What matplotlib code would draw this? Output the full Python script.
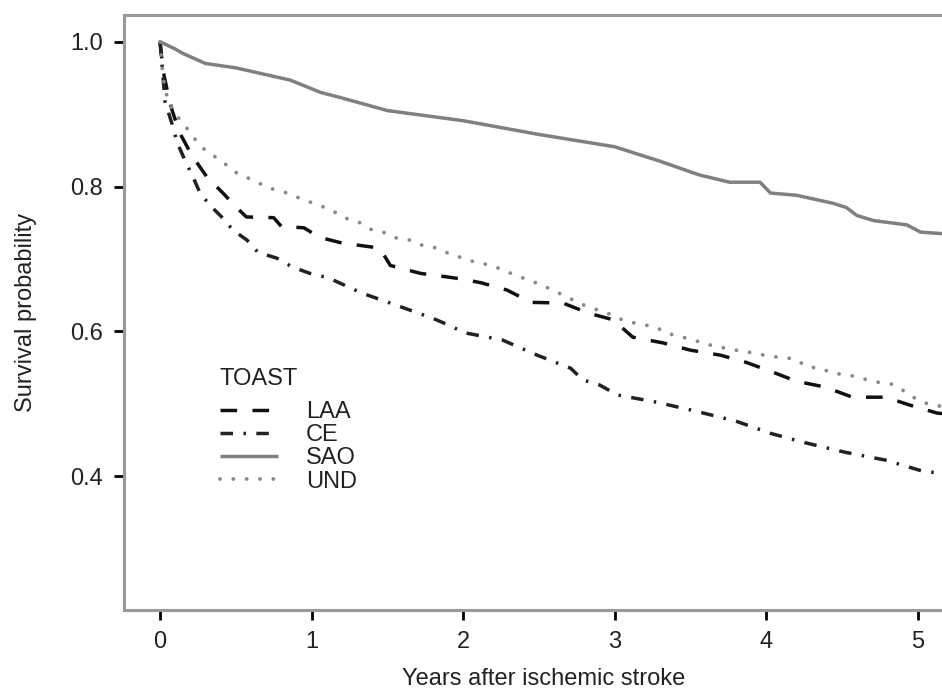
import matplotlib
matplotlib.use("Agg")
import matplotlib.pyplot as plt

plt.rcParams['font.family'] = ['Liberation Sans', 'DejaVu Sans']
plt.rcParams['lines.scale_dashes'] = False

# ---- data ----
laa_t = [0, 0.02, 0.05, 0.08, 0.13, 0.21, 0.31, 0.42, 0.50, 0.57, 0.75, 0.80, 0.95, 1.05,
         1.20, 1.45, 1.52, 1.72, 1.90, 2.0, 2.12, 2.29, 2.45, 2.66, 2.83, 2.99, 3.12, 3.32,
         3.50, 3.70, 3.87, 4.04, 4.20, 4.39, 4.57, 4.79, 4.95, 5.13, 5.25]
laa_s = [1.0, 0.96, 0.93, 0.905, 0.874, 0.843, 0.813, 0.790, 0.772, 0.758, 0.757, 0.745,
         0.743, 0.730, 0.722, 0.715, 0.691, 0.680, 0.675, 0.672, 0.667, 0.657, 0.640, 0.639,
         0.625, 0.616, 0.592, 0.584, 0.574, 0.567, 0.557, 0.544, 0.531, 0.523, 0.509, 0.509,
         0.498, 0.487, 0.485]

ce_t = [0, 0.02, 0.033, 0.086, 0.112, 0.165, 0.218, 0.264, 0.33, 0.416, 0.48, 0.574, 0.647,
        0.772, 0.871, 0.99, 1.11, 1.33, 1.56, 1.80, 1.90, 2.01, 2.26, 2.49, 2.71, 2.79, 2.90,
        3.02, 3.28, 3.53, 3.80, 4.03, 4.26, 4.52, 4.79, 5.03, 5.15, 5.25]
ce_s = [1.0, 0.95, 0.917, 0.882, 0.861, 0.836, 0.813, 0.791, 0.774, 0.756, 0.740, 0.726,
        0.709, 0.701, 0.689, 0.680, 0.674, 0.653, 0.636, 0.618, 0.609, 0.598, 0.588, 0.567,
        0.549, 0.533, 0.526, 0.512, 0.502, 0.490, 0.476, 0.459, 0.446, 0.433, 0.422, 0.407,
        0.404, 0.400]

sao_t = [0, 0.02, 0.10, 0.15, 0.30, 0.50, 0.86, 1.06, 1.19, 1.50, 2.00, 2.50, 3.00, 3.30,
         3.56, 3.76, 3.96, 4.03, 4.20, 4.44, 4.53, 4.60, 4.71, 4.93, 5.02, 5.16, 5.25]
sao_s = [1.0, 0.998, 0.990, 0.984, 0.970, 0.964, 0.947, 0.930, 0.923, 0.905, 0.891, 0.872,
         0.855, 0.835, 0.816, 0.806, 0.806, 0.791, 0.788, 0.777, 0.771, 0.760, 0.753, 0.747,
         0.737, 0.735, 0.733]

und_t = [0, 0.02, 0.05, 0.10, 0.15, 0.20, 0.25, 0.31, 0.38, 0.45, 0.51, 0.59, 0.67, 0.75,
         0.84, 0.92, 1.01, 1.09, 1.17, 1.24, 1.32, 1.40, 1.49, 1.56, 1.65, 1.74, 1.83, 1.90,
         2.00, 2.09, 2.19, 2.26, 2.34, 2.43, 2.52, 2.59, 2.66, 2.74, 2.83, 2.90, 2.99, 3.07,
         3.17, 3.27, 3.35, 3.43, 3.52, 3.61, 3.70, 3.80, 3.89, 3.99, 4.09, 4.19, 4.27, 4.36,
         4.44, 4.54, 4.63, 4.73, 4.83, 4.90, 4.97, 5.05, 5.14, 5.25]
und_s = [1.0, 0.95, 0.92, 0.90, 0.888, 0.874, 0.860, 0.848, 0.839, 0.828, 0.818, 0.811,
         0.803, 0.796, 0.791, 0.784, 0.777, 0.771, 0.763, 0.755, 0.750, 0.740, 0.736, 0.729,
         0.726, 0.718, 0.715, 0.708, 0.701, 0.695, 0.691, 0.685, 0.678, 0.671, 0.664, 0.657,
         0.650, 0.642, 0.633, 0.629, 0.622, 0.614, 0.610, 0.606, 0.597, 0.593, 0.588, 0.582,
         0.578, 0.574, 0.571, 0.567, 0.564, 0.562, 0.551, 0.549, 0.542, 0.540, 0.535, 0.530,
         0.527, 0.519, 0.509, 0.501, 0.497, 0.493]

x_ticks = [0, 1, 2, 3, 4, 5]
y_ticks = [0.4, 0.6, 0.8, 1.0]
y_ticklabels = ["0.4", "0.6", "0.8", "1.0"]

# ---- figure ----
W, H = 942, 690
AX_L, AX_R, AX_T, AX_B = 124, 963, 15, 610
fig = plt.figure(figsize=(W / 100, H / 100), dpi=100)
ax = fig.add_axes([AX_L / W, 1 - AX_B / H, (AX_R - AX_L) / W, (AX_B - AX_T) / H])

lw = 2.5
ax.plot(laa_t, laa_s, color='#111111', lw=lw, dashes=(12, 11), label='LAA')
ax.plot(ce_t, ce_s, color='#222222', lw=lw, dashes=(9, 7.5, 1.8, 7.5), label='CE')
ax.plot(sao_t, sao_s, color='#808080', lw=2.5, solid_capstyle='butt', label='SAO')
ax.plot(und_t, und_s, color='#8a8a8a', lw=2.8, dashes=(0.01, 9.6),
        dash_capstyle='round', label='UND')

ax.set_xlim(-0.238, 5.3)
ax.set_ylim(0.215, 1.037)
ax.set_xticks(x_ticks)
ax.set_yticks(y_ticks)
ax.set_yticklabels(y_ticklabels)

for sp in ['left', 'bottom', 'top', 'right']:
    ax.spines[sp].set_color('#999999')
    ax.spines[sp].set_linewidth(2.2)

ax.tick_params(axis='both', direction='out', length=7, width=2.0, color='black',
               labelsize=17, pad=8, labelcolor='#222222')

ax.set_xlabel('Years after ischemic stroke', fontsize=17, labelpad=11, color='#222222')
ax.set_ylabel('Survival probability', fontsize=17, labelpad=24, color='#222222')

leg_left = (220 - AX_L) / (AX_R - AX_L)
leg_top = 1 - (368 - AX_T) / (AX_B - AX_T)
leg = ax.legend(title='TOAST', loc='upper left', bbox_to_anchor=(leg_left, leg_top),
                frameon=False, fontsize=17, title_fontsize=17,
                handlelength=2.45, handletextpad=1.2, labelspacing=0.05,
                alignment='left', borderaxespad=0, borderpad=0)
leg._legend_box.sep = 8.0
for t in leg.get_texts():
    t.set_color('#222222')
leg.get_title().set_color('#222222')

fig.savefig('out.png', dpi=100)
